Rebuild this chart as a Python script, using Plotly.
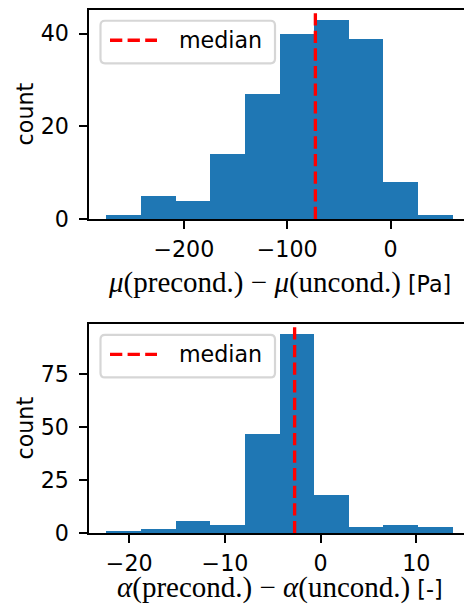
import plotly.graph_objects as go

# ---------------- data ----------------
mu_bin_edges = [-275.0, -241.5, -208.0, -174.5, -141.0, -107.5, -74.0, -40.5, -7.0, 26.5, 60.0]
mu_counts = [1, 5, 4, 14, 27, 40, 43, 39, 8, 1]
mu_median = -72.8

alpha_bin_edges = [-22.40, -18.78, -15.16, -11.54, -7.92, -4.30, -0.68, 2.94, 6.56, 10.18, 13.80]
alpha_counts = [1, 2, 6, 4, 47, 94, 18, 3, 4, 3]
alpha_median = -2.72

mu_xticks = [-200, -100, 0]
mu_yticks = [0, 20, 40]
alpha_xticks = [-20, -10, 0, 10]
alpha_yticks = [0, 25, 50, 75]

legend_label = "median"
ylabel = "count"
mu_xlabel = ('<span style="font-family:\'Liberation Serif\';font-size:29px">'
             '<i>μ</i>(precond.) − <i>μ</i>(uncond.)</span> [Pa]')
alpha_xlabel = ('<span style="font-family:\'Liberation Serif\';font-size:29px">'
                '<i>α</i>(precond.) − <i>α</i>(uncond.)</span> [-]')

# ---------------- style / geometry ----------------
IMG_W, IMG_H = 464, 605          # target picture
W, H = 464, 619                  # page is captured ~619 px tall and scaled to 605
BLUE = "#1f77b4"
FONT = "DejaVu Sans"
FS = 22.2
LW = 1.8
AX_LEFT = 89.0
AX_RIGHT_VIS = 464.0
AX_RIGHT_FULL = 470.0            # matplotlib's right spine (cropped out of the picture)

panels = [
    dict(edges=mu_bin_edges, counts=mu_counts, med=mu_median, xt=mu_xticks, yt=mu_yticks,
         top=9.7, bottom=218.7, xlabel=mu_xlabel, xlabel_y=282.5),
    dict(edges=alpha_bin_edges, counts=alpha_counts, med=alpha_median, xt=alpha_xticks, yt=alpha_yticks,
         top=323.3, bottom=532.3, xlabel=alpha_xlabel, xlabel_y=587.0),
]

# positions below are given in picture pixels
def px(x):
    return x / IMG_W

def py(y):
    return 1 - y / IMG_H

def rounded_rect(x0, y0, x1, y1, r):
    pts = [f"M {px(x0 + r)},{py(y0)}",
           f"L {px(x1 - r)},{py(y0)}",
           f"Q {px(x1)},{py(y0)} {px(x1)},{py(y0 + r)}",
           f"L {px(x1)},{py(y1 - r)}",
           f"Q {px(x1)},{py(y1)} {px(x1 - r)},{py(y1)}",
           f"L {px(x0 + r)},{py(y1)}",
           f"Q {px(x0)},{py(y1)} {px(x0)},{py(y1 - r)}",
           f"L {px(x0)},{py(y0 + r)}",
           f"Q {px(x0)},{py(y0)} {px(x0 + r)},{py(y0)}",
           "Z"]
    return " ".join(pts)

fig = go.Figure()
shapes = []
annotations = []
layout_axes = {}

for i, p in enumerate(panels):
    n = "" if i == 0 else str(i + 1)
    xa, ya = "x" + n, "y" + n
    e = p["edges"]
    centers = [(e[k] + e[k + 1]) / 2 for k in range(len(e) - 1)]
    widths = [e[k + 1] - e[k] for k in range(len(e) - 1)]
    fig.add_trace(go.Bar(x=centers, y=p["counts"], width=widths, marker=dict(color=BLUE, line=dict(width=0)),
                         xaxis=xa, yaxis=ya, showlegend=False, hoverinfo="skip"))
    ymax = max(p["counts"]) * 1.05
    fig.add_trace(go.Scatter(x=[p["med"], p["med"]], y=[0, ymax], mode="lines", name=legend_label,
                             line=dict(color="red", width=3.33, dash="12.3px,5.3px"),
                             xaxis=xa, yaxis=ya, showlegend=False, hoverinfo="skip"))
    span = e[-1] - e[0]
    xlo, xhi = e[0] - 0.05 * span, e[-1] + 0.05 * span
    vis_hi = xlo + (xhi - xlo) * (AX_RIGHT_VIS - AX_LEFT) / (AX_RIGHT_FULL - AX_LEFT)

    common = dict(showgrid=False, zeroline=False, showline=True, linecolor="black", linewidth=LW,
                  ticks="outside", tickwidth=LW, tickcolor="black",
                  tickfont=dict(family=FONT, size=FS, color="black"))
    layout_axes["xaxis" + n] = dict(common, domain=[px(AX_LEFT), 1], range=[xlo, vis_hi], anchor=ya,
                                    tickvals=p["xt"], mirror=True, ticklen=8, ticklabelstandoff=1)
    layout_axes["yaxis" + n] = dict(common, domain=[py(p["bottom"]), py(p["top"])], range=[0, ymax],
                                    anchor=xa, tickvals=p["yt"], ticklen=7.8, ticklabelstandoff=6)

    bt = p["top"] + 11
    shapes.append(dict(type="path", xref="paper", yref="paper",
                       path=rounded_rect(100.5, bt, 275, bt + 42.5, 4.5),
                       fillcolor="rgba(255,255,255,0.8)", line=dict(color="rgba(204,204,204,0.8)", width=2.2),
                       layer="above"))
    ly = p["top"] + 30.5
    shapes.append(dict(type="line", xref="paper", yref="paper", x0=px(110), x1=px(157), y0=py(ly), y1=py(ly),
                       line=dict(color="red", width=3.33, dash="12.3px,5.3px"), layer="above"))
    annotations.append(dict(text=legend_label, xref="paper", yref="paper", x=px(177), y=py(ly),
                            xanchor="left", yanchor="middle", showarrow=False,
                            font=dict(family=FONT, size=FS, color="black")))
    annotations.append(dict(text=ylabel, xref="paper", yref="paper", x=px(25),
                            y=py((p["top"] + p["bottom"]) / 2), textangle=-90,
                            xanchor="center", yanchor="middle", showarrow=False,
                            font=dict(family=FONT, size=FS, color="black")))
    annotations.append(dict(text=p["xlabel"], xref="paper", yref="paper", x=px((AX_LEFT + AX_RIGHT_FULL) / 2),
                            y=py(p["xlabel_y"]), xanchor="center", yanchor="middle", showarrow=False,
                            borderpad=0, font=dict(family=FONT, size=FS, color="black")))

fig.update_layout(width=W, height=H, margin=dict(l=0, r=0, t=0, b=0), autosize=False,
                  paper_bgcolor="white", plot_bgcolor="white", bargap=0,
                  shapes=shapes, annotations=annotations, **layout_axes)

fig.write_html("out.html", config={"displayModeBar": False},
               post_script="document.body.style.margin='0';document.body.style.overflow='hidden';")
